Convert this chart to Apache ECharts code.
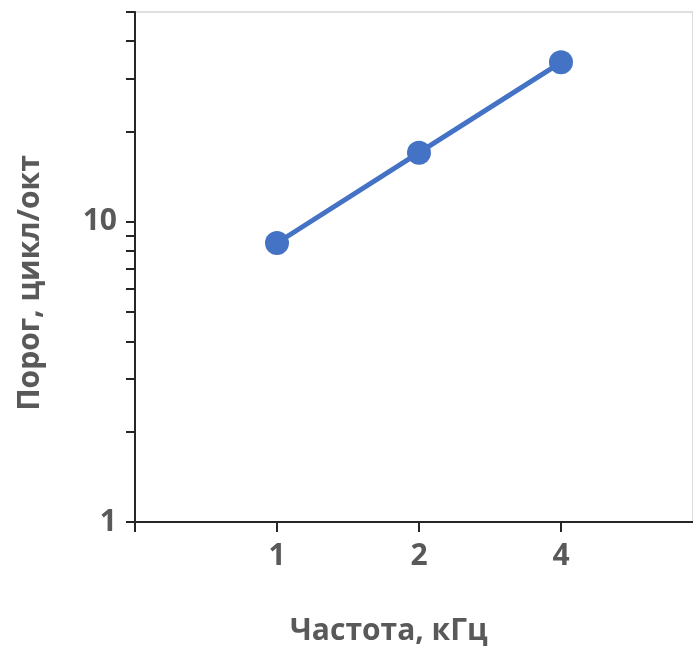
<!DOCTYPE html>
<html>
<head>
<meta charset="utf-8">
<script src="https://cdn.jsdelivr.net/npm/echarts@6/dist/echarts.min.js"></script>
<style>html,body{margin:0;padding:0;background:#fff}#c{width:693px;height:661px}</style>
</head>
<body>
<div id="c"></div>
<script>
const freqs = [1, 2, 4];
const thresholds = [8.5, 17, 34];
const xTickValues = [0.5, 1, 2, 4];
const xLabelValues = [1, 2, 4];
const yTickValues = [1, 2, 3, 4, 5, 6, 7, 8, 9, 10, 20, 30, 40, 50];
const yLabelValues = [1, 10];
const xTitle = 'Частота, кГц';
const yTitle = 'Порог, цикл/окт';

const font = '"Open Sans", "DejaVu Sans", sans-serif';
const labelColor = '#595959';
const axisColor = '#262626';

const chart = echarts.init(document.getElementById('c'));
chart.setOption({
  animation: false,
  grid: { left: 135, top: 12, right: 0, height: 510, show: true, borderColor: '#bfbfbf', borderWidth: 1 },
  xAxis: {
    type: 'log', logBase: 2, min: 0.5, max: 7.62,
    axisLine: { lineStyle: { color: axisColor, width: 2 } },
    axisTick: { length: 10, lineStyle: { color: axisColor, width: 2 }, customValues: xTickValues },
    axisLabel: { customValues: xLabelValues, color: labelColor, fontFamily: font, fontWeight: 'bold', fontSize: 30, margin: 19 },
    splitLine: { show: false }, minorTick: { show: false }
  },
  yAxis: {
    type: 'log', logBase: 10, min: 1, max: 50,
    axisLine: { lineStyle: { color: axisColor, width: 2 } },
    axisTick: { length: 9, lineStyle: { color: axisColor, width: 2 }, customValues: yTickValues },
    axisLabel: { customValues: yLabelValues, color: labelColor, fontFamily: font, fontWeight: 'bold', fontSize: 30, margin: 18 },
    splitLine: { show: false }, minorTick: { show: false }
  },
  graphic: [
    { type: 'text', left: 290, top: 616, style: { text: xTitle, fill: labelColor, font: 'bold 30px ' + font } },
    { type: 'text', x: 15, y: 283, rotation: Math.PI / 2, style: { text: yTitle, fill: labelColor, font: 'bold 30px ' + font, align: 'center', verticalAlign: 'top' } }
  ],
  series: [{
    type: 'line',
    data: freqs.map((f, i) => [f, thresholds[i]]),
    symbol: 'circle', symbolSize: 24,
    lineStyle: { color: '#4472C4', width: 5 },
    itemStyle: { color: '#4472C4' }
  }]
});
</script>
</body>
</html>
